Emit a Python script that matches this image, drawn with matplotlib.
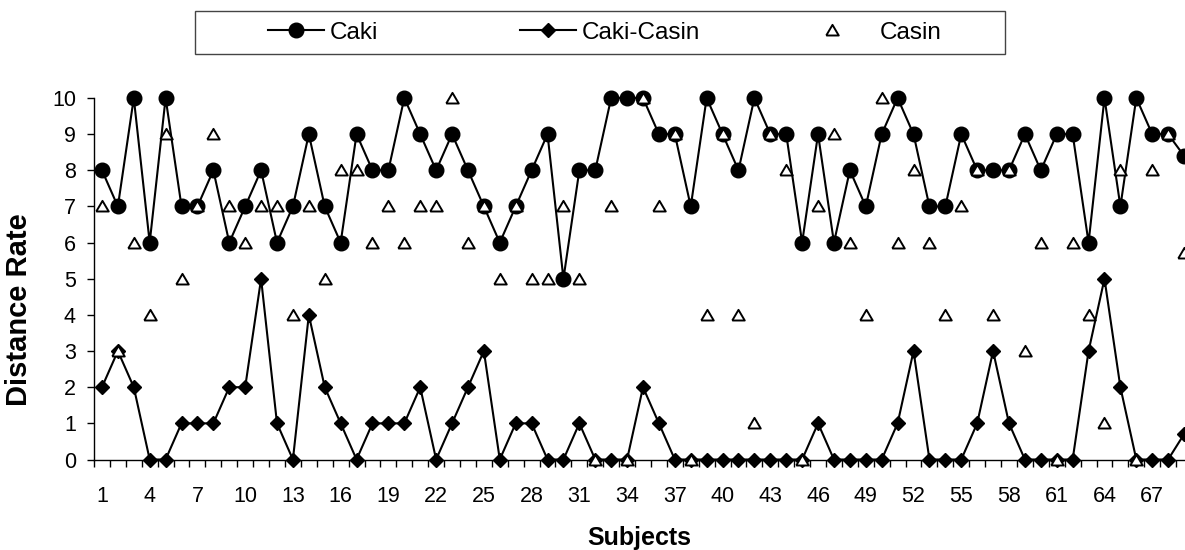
import numpy as np
import matplotlib
matplotlib.use("Agg")
import matplotlib.pyplot as plt
from matplotlib.patches import Rectangle
from matplotlib.ticker import FixedLocator

plt.rcParams['font.family'] = ['Liberation Sans', 'DejaVu Sans']

# values (subjects 1..69, last one cut at the edge)
subjects = list(range(1, 70))
caki = [8, 7, 10, 6, 10, 7, 7, 8, 6, 7,
        8, 6, 7, 9, 7, 6, 9, 8, 8, 10,
        9, 8, 9, 8, 7, 6, 7, 8, 9, 5,
        8, 8, 10, 10, 10, 9, 9, 7, 10, 9,
        8, 10, 9, 9, 6, 9, 6, 8, 7, 9,
        10, 9, 7, 7, 9, 8, 8, 8, 9, 8,
        9, 9, 6, 10, 7, 10, 9, 9, 8.4]
casin = [7, 3, 6, 4, 9, 5, 7, 9, 7, 6,
         7, 7, 4, 7, 5, 8, 8, 6, 7, 6,
         7, 7, 10, 6, 7, 5, 7, 5, 5, 7,
         5, 0, 7, 0, 10, 7, 9, 0, 4, 9,
         4, 1, 9, 8, 0, 7, 9, 6, 4, 10,
         6, 8, 6, 4, 7, 8, 4, 8, 3, 6,
         0, 6, 4, 1, 8, 0, 8, 9, 5.7]
diff = [2, 3, 2, 0, 0, 1, 1, 1, 2, 2,
        5, 1, 0, 4, 2, 1, 0, 1, 1, 1,
        2, 0, 1, 2, 3, 0, 1, 1, 0, 0,
        1, 0, 0, 0, 2, 1, 0, 0, 0, 0,
        0, 0, 0, 0, 0, 1, 0, 0, 0, 0,
        1, 3, 0, 0, 0, 1, 3, 1, 0, 0,
        0, 0, 3, 5, 2, 0, 0, 0, 0.7]
xticklabels = list(range(1, 68, 3))

W, H = 1185, 550
fig = plt.figure(figsize=(W / 100, H / 100), dpi=100)
ax = fig.add_axes([94 / W, 90.5 / H, 1091 / W, 361.5 / H])

tri = [(-1, -0.8), (1, -0.8), (0, 0.9), (-1, -0.8)]

l1, = ax.plot(subjects, caki, color="black", lw=1.5, marker="o", ms=10.5,
              mfc="black", mec="black", clip_on=False, zorder=3)
l2, = ax.plot(subjects, diff, color="black", lw=1.5, marker="D", ms=7.6,
              mfc="black", mec="black", clip_on=False, zorder=4)
l3, = ax.plot(subjects, casin, ls="none", marker=tri, ms=9, mfc="white",
              mec="black", mew=1.4, clip_on=False, zorder=5)

ax.set_xlim(0.5, 69.06)
ax.set_ylim(0, 10)
ax.set_yticks(range(0, 11))
ax.set_xticks(xticklabels)
ax.set_xticklabels([str(v) for v in xticklabels])
ax.xaxis.set_minor_locator(FixedLocator(np.arange(0.5, 69.5, 1)))
ax.tick_params(axis="x", which="major", length=0, pad=19, labelsize=15.5)
ax.tick_params(axis="x", which="minor", length=5, width=1, direction="out")
ax.tick_params(axis="y", length=5, width=1, pad=8, labelsize=15.5)

for s in ["top", "right"]:
    ax.spines[s].set_visible(False)
for s in ["left", "bottom"]:
    ax.spines[s].set_linewidth(1)

ax.set_xlabel("Subjects", fontsize=18, fontweight="bold", labelpad=14)
ax.set_ylabel("Distance Rate", fontsize=21, fontweight="bold")
ax.yaxis.set_label_coords(-0.056, 0.415)

# legend box and its three entries
fig.add_artist(Rectangle((195 / W, 496 / H), 810 / W, 43 / H,
                         transform=fig.transFigure, fill=False,
                         lw=1, ec="#444444"))
entries = [(l1, "Caki", 268, 0.25), (l2, "Caki-Casin", 520, 0.25),
           (l3, "Casin", 804, 0.8)]
for h, lab, x0, tp in entries:
    leg = fig.legend([h], [lab], loc="center left",
                     bbox_to_anchor=(x0 / W, 517.5 / H), frameon=False,
                     fontsize=17.5, handlelength=2.3, handletextpad=tp,
                     borderpad=0, borderaxespad=0)

fig.savefig("out.png", dpi=100)
